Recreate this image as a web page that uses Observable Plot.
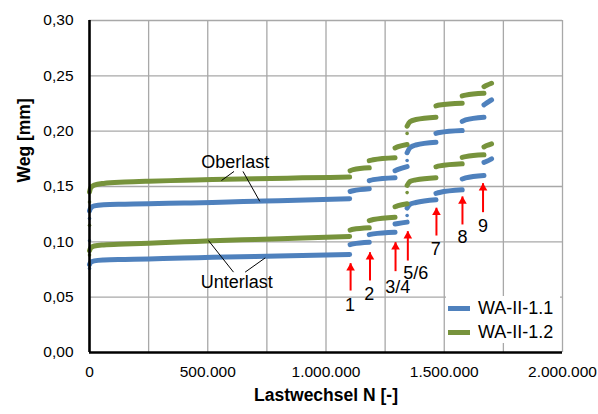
<!DOCTYPE html>
<html>
<head>
<meta charset="utf-8">
<script src="https://cdn.jsdelivr.net/npm/d3@7"></script>
<script src="https://cdn.jsdelivr.net/npm/@observablehq/plot@0.6"></script>
<style>
  body { margin: 0; background: #fff; }
  #wrap { position: relative; width: 598px; height: 414px; font-family: "Liberation Sans", Arial, sans-serif; }
  #legend { position: absolute; left: 446px; top: 296px; width: 114px; height: 47px; background: #fff; }
  .item { position: absolute; left: 2px; height: 20px; display: flex; align-items: center; font-size: 18px; color: #000; white-space: nowrap; }
  .sw { width: 22px; height: 5px; margin-right: 8px; }
</style>
</head>
<body>
<div id="wrap"><div id="chart"></div><div id="legend"></div></div>
<script>
// ---- data ----
const seriesNames = ["WA-II-1.1", "WA-II-1.2"];
const seriesColors = ["#4f81bd", "#77933c"];

const xTicks = [0, 500000, 1000000, 1500000, 2000000];
const xGrid = [250000, 500000, 750000, 1000000, 1250000, 1500000, 1750000, 2000000];
const yTicks = [0, 0.05, 0.10, 0.15, 0.20, 0.25, 0.30];

// WA-II-1.1 (blue) Oberlast segments [N, Weg]
const blueOber = [
  [[0,0.128],[5e3,0.1305],[20e3,0.1325],[60e3,0.1335],[150e3,0.134],[250e3,0.1345],[400e3,0.135],[520e3,0.1355],[650e3,0.1365],[800e3,0.1372],[950e3,0.138],[1.1e6,0.139]],
  [[1.102e6,0.1455],[1.115e6,0.1462],[1.183e6,0.148]],
  [[1.183e6,0.1552],[1.2e6,0.1562],[1.292e6,0.158]],
  [[1.292e6,0.1643],[1.305e6,0.1655],[1.343e6,0.168]],
  [[1.343e6,0.1805],[1.355e6,0.185],[1.38e6,0.1875],[1.465e6,0.190]],
  [[1.465e6,0.198],[1.48e6,0.1988],[1.576e6,0.2006]],
  [[1.576e6,0.2088],[1.59e6,0.2102],[1.668e6,0.2126]],
  [[1.668e6,0.2238],[1.68e6,0.2255],[1.700e6,0.2283]]
];
// WA-II-1.1 (blue) Unterlast
const blueUnter = [
  [[0,0.0795],[5e3,0.0815],[20e3,0.0828],[60e3,0.0836],[150e3,0.0841],[250e3,0.0846],[400e3,0.0853],[520e3,0.086],[700e3,0.0868],[900e3,0.0877],[1.1e6,0.0886]],
  [[1.102e6,0.0975],[1.115e6,0.0982],[1.183e6,0.0997]],
  [[1.183e6,0.1065],[1.2e6,0.1072],[1.292e6,0.1087]],
  [[1.292e6,0.1161],[1.305e6,0.1166],[1.343e6,0.1178]],
  [[1.343e6,0.1305],[1.355e6,0.134],[1.38e6,0.1355],[1.465e6,0.138]],
  [[1.465e6,0.1438],[1.48e6,0.1446],[1.576e6,0.147]],
  [[1.576e6,0.1568],[1.59e6,0.1578],[1.668e6,0.160]],
  [[1.668e6,0.1718],[1.68e6,0.1728],[1.700e6,0.175]]
];
// WA-II-1.2 (green) Oberlast
const greenOber = [
  [[0,0.145],[5e3,0.1488],[20e3,0.1512],[60e3,0.1528],[150e3,0.154],[250e3,0.1548],[400e3,0.1556],[520e3,0.1563],[700e3,0.157],[900e3,0.1578],[1.1e6,0.1585]],
  [[1.102e6,0.1642],[1.115e6,0.1652],[1.183e6,0.1669]],
  [[1.183e6,0.1733],[1.2e6,0.1742],[1.292e6,0.176]],
  [[1.292e6,0.1848],[1.305e6,0.186],[1.343e6,0.188]],
  [[1.343e6,0.2045],[1.355e6,0.2085],[1.38e6,0.2105],[1.465e6,0.2126]],
  [[1.465e6,0.2228],[1.48e6,0.2236],[1.576e6,0.2253]],
  [[1.576e6,0.2318],[1.59e6,0.2326],[1.668e6,0.2343]],
  [[1.668e6,0.2402],[1.68e6,0.2415],[1.700e6,0.2433]]
];
// WA-II-1.2 (green) Unterlast
const greenUnter = [
  [[0,0.092],[5e3,0.0945],[20e3,0.0962],[60e3,0.0972],[150e3,0.098],[250e3,0.0988],[400e3,0.1],[520e3,0.101],[700e3,0.1022],[900e3,0.1035],[1.1e6,0.1048]],
  [[1.102e6,0.1106],[1.115e6,0.1113],[1.183e6,0.1127]],
  [[1.183e6,0.1192],[1.2e6,0.1202],[1.292e6,0.1223]],
  [[1.292e6,0.1317],[1.305e6,0.1327],[1.343e6,0.1344]],
  [[1.343e6,0.151],[1.355e6,0.1545],[1.38e6,0.156],[1.465e6,0.158]],
  [[1.465e6,0.1678],[1.48e6,0.1686],[1.576e6,0.1705]],
  [[1.576e6,0.1763],[1.59e6,0.1770],[1.668e6,0.1786]],
  [[1.668e6,0.1858],[1.68e6,0.187],[1.700e6,0.1886]]
];
// isolated measurement points (initial loading at N=0, transition at step 5/6)
const isoN = [0, 0, 0, 0, 0, 0, 1.343e6, 1.343e6, 1.343e6, 1.343e6];
const isoW = [0.136, 0.115, 0.121, 0.101, 0.076, 0.088, 0.198, 0.1735, 0.1445, 0.1238];
const isoS = ["WA-II-1.2","WA-II-1.2","WA-II-1.1","WA-II-1.1","WA-II-1.1","WA-II-1.2","WA-II-1.2","WA-II-1.1","WA-II-1.2","WA-II-1.1"];

// load step arrows
const arrowN = [1.104e6, 1.186e6, 1.294e6, 1.346e6, 1.467e6, 1.577e6, 1.664e6];
const arrowTip = [0.0807, 0.0906, 0.0997, 0.1096, 0.1308, 0.141, 0.153];
const arrowTail = [0.056, 0.0651, 0.0735, 0.0831, 0.1057, 0.1157, 0.1268];
const stepLabels = ["1", "2", "3/4", "5/6", "7", "8", "9"];
const stepLabelN = [1.101e6, 1.183e6, 1.303e6, 1.380e6, 1.464e6, 1.577e6, 1.664e6];
const stepLabelW = [0.0425, 0.0524, 0.059, 0.0717, 0.0931, 0.1042, 0.1139];

// annotations
const annText = ["Oberlast", "Unterlast"];
const annN = [616e3, 623e3];
const annW = [0.172, 0.0635];
const leadX1 = [611e3, 649e3, 609e3, 658e3];
const leadY1 = [0.1636, 0.1636, 0.0726, 0.0726];
const leadX2 = [558e3, 720e3, 503e3, 743e3];
const leadY2 = [0.1554, 0.1366, 0.1012, 0.0855];

// ---- build tables ----
const rows = [];
function addCurve(series, load, segs) {
  segs.forEach((s, i) => s.forEach(([n, w]) => rows.push({series, key: series + load + i, N: n, W: w})));
}
addCurve("WA-II-1.1", "O", blueOber);
addCurve("WA-II-1.1", "U", blueUnter);
addCurve("WA-II-1.2", "O", greenOber);
addCurve("WA-II-1.2", "U", greenUnter);
const iso = isoN.map((n, i) => ({N: n, W: isoW[i], series: isoS[i]}));
const arrows = arrowN.map((n, i) => ({N: n, tip: arrowTip[i], tail: arrowTail[i]}));
const steps = stepLabels.map((t, i) => ({t, N: stepLabelN[i], W: stepLabelW[i]}));
const anns = annText.map((t, i) => ({t, N: annN[i], W: annW[i]}));
const leads = leadX1.map((x, i) => ({x1: x, y1: leadY1[i], x2: leadX2[i], y2: leadY2[i]}));

const fmtX = d => d3.format(",")(d).replace(/,/g, ".");
const fmtY = d => d.toFixed(2).replace(".", ",");

const chart = Plot.plot({
  width: 598,
  height: 414,
  marginLeft: 89,
  marginRight: 36,
  marginTop: 20,
  marginBottom: 62,
  style: {fontFamily: "'Liberation Sans', Arial, sans-serif", background: "#fff", color: "#000"},
  x: {domain: [0, 2000000]},
  y: {domain: [0, 0.30]},
  color: {domain: seriesNames, range: seriesColors},
  marks: [
    Plot.gridX(xGrid, {stroke: "#a8a8a8", strokeOpacity: 1, strokeWidth: 1.3}),
    Plot.gridY(yTicks.slice(1), {stroke: "#a8a8a8", strokeOpacity: 1, strokeWidth: 1.3}),
    Plot.axisX(xTicks, {tickFormat: fmtX, tickSize: 0, tickPadding: 13, fontSize: 15.5, label: null}),
    Plot.axisY(yTicks, {tickFormat: fmtY, tickSize: 0, tickPadding: 16, fontSize: 15.5, label: null}),
    Plot.text(["Lastwechsel N [-]"], {frameAnchor: "bottom", dy: 48, fontWeight: "bold", fontSize: 17.5}),
    Plot.text(["Weg [mm]"], {frameAnchor: "left", rotate: -90, dx: -65, dy: -4, fontWeight: "bold", fontSize: 17.5}),
    Plot.line(rows, {x: "N", y: "W", z: "key", stroke: "series", strokeWidth: 5, strokeLinecap: "round", curve: "monotone-x"}),
    Plot.dot(iso, {x: "N", y: "W", fill: "series", r: 1.8}),
    Plot.link(leads, {x1: "x1", y1: "y1", x2: "x2", y2: "y2", stroke: "#000", strokeWidth: 1}),
    Plot.text(anns, {x: "N", y: "W", text: "t", fontSize: 18}),
    Plot.link(arrows, {x1: "N", x2: "N", y1: "tail", y2: "tip", stroke: "#ff0000", strokeWidth: 2}),
    Plot.dot(arrows, {x: "N", y: "tip", symbol: "triangle", r: 3.2, fill: "#ff0000", dy: 4.8}),
    Plot.text(steps, {x: "N", y: "W", text: "t", fontSize: 18}),
    Plot.ruleX([0], {stroke: "#000", strokeWidth: 2.6}),
    Plot.ruleY([0], {stroke: "#000", strokeWidth: 2.6})
  ]
});
document.getElementById("chart").appendChild(chart);

// legend
const legend = document.getElementById("legend");
seriesNames.forEach((name, i) => {
  const item = document.createElement("div");
  item.className = "item";
  item.style.top = (2 + i * 24) + "px";
  const sw = document.createElement("div");
  sw.className = "sw";
  sw.style.background = seriesColors[i];
  item.appendChild(sw);
  item.appendChild(document.createTextNode(name));
  legend.appendChild(item);
});
</script>
</body>
</html>
